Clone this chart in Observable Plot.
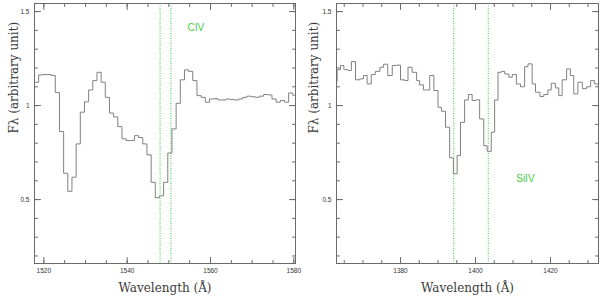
<!DOCTYPE html>
<html>
<head>
<meta charset="utf-8">
<script src="https://cdn.jsdelivr.net/npm/d3@7"></script>
<script src="https://cdn.jsdelivr.net/npm/@observablehq/plot@0.6"></script>
<style>
  html, body { margin: 0; padding: 0; background: #fff; }
  #wrap { display: flex; width: 600px; height: 298px; background: #fff; }
  #wrap svg { overflow: visible; }
</style>
</head>
<body>
<div id="wrap"></div>
<script>
// ---------- data ----------
// Left panel (C IV): bin left edges (Å) and flux
const civWave = [1517.75,1518.75,1519.75,1520.75,1521.75,1522.75,1523.75,1524.75,1525.75,1526.75,
  1527.75,1528.75,1529.75,1530.75,1531.75,1532.75,1533.75,1534.75,1535.75,1536.75,
  1537.75,1538.75,1539.75,1540.75,1541.75,1542.75,1543.75,1544.75,1545.75,1546.75,
  1547.75,1548.75,1549.75,1550.75,1551.75,1552.75,1553.75,1554.75,1555.75,1556.75,
  1557.75,1558.75,1559.75,1560.75,1561.75,1562.75,1563.75,1564.75,1565.75,1566.75,
  1567.75,1568.75,1569.75,1570.75,1571.75,1572.75,1573.75,1574.75,1575.75,1576.75,
  1577.75,1578.75,1579.75,1580.75];
const civFlux = [1.124,1.163,1.165,1.165,1.16,1.07,0.862,0.64,0.544,0.619,
  0.796,0.965,1.02,1.083,1.133,1.177,1.124,1.044,0.96,0.94,
  0.888,0.823,0.814,0.814,0.84,0.83,0.796,0.738,0.592,0.51,
  0.52,0.592,0.748,0.876,1.012,1.137,1.19,1.182,1.133,1.053,
  1.044,1.018,1.035,1.037,1.03,1.03,1.035,1.032,1.03,1.035,
  1.044,1.05,1.047,1.044,1.05,1.059,1.057,1.035,1.018,1.027,
  1.018,1.067,1.055,1.055];
// Right panel (Si IV)
const siivWave = [1362.5,1363.1,1364.0,1364.9,1366.0,1366.9,1368.0,1369.1,1370.1,1371.1,
  1372.2,1373.3,1374.5,1375.5,1376.6,1377.8,1378.9,1380.0,1381.1,1382.0,
  1383.1,1384.3,1385.1,1386.1,1386.9,1387.8,1388.9,1390.0,1390.9,1392.0,
  1393.1,1394.1,1395.1,1396.0,1397.1,1398.1,1399.1,1400.0,1401.1,1402.2,
  1403.1,1404.2,1405.1,1406.0,1406.9,1407.8,1408.9,1409.8,1410.9,1412.0,
  1413.1,1414.0,1415.1,1416.0,1417.2,1418.2,1419.3,1420.2,1421.3,1422.2,
  1423.1,1424.3,1425.3,1426.2,1427.3,1428.5,1429.6,1430.7,1431.7,1433.0];
const siivFlux = [1.129,1.191,1.213,1.191,1.187,1.234,1.137,1.142,1.16,1.115,
  1.165,1.182,1.204,1.22,1.16,1.213,1.215,1.137,1.133,1.204,
  1.177,1.133,1.11,1.083,1.083,1.16,1.08,0.991,0.97,0.885,
  0.722,0.637,0.734,0.911,1.03,1.059,1.027,1.03,0.929,0.787,
  0.757,0.858,1.03,1.177,1.182,1.168,1.151,1.165,1.115,1.10,
  1.207,1.222,1.115,1.071,1.048,1.059,1.083,1.119,1.094,1.053,
  1.137,1.195,1.16,1.062,1.124,1.09,1.10,1.133,1.115,1.115];

const civLines = [1547.9, 1550.5];
const siivLines = [1394.2, 1403.4];
const civLabel = [{text: "CIV", wave: 1556.5, flux: 1.415}];
const siivLabel = [{text: "SiIV", wave: 1413.3, flux: 0.612}];

const civMajor = [1520, 1540, 1560, 1580];
const civMinor = [1520,1525,1530,1535,1540,1545,1550,1555,1560,1565,1570,1575,1580];
const siivMajor = [1380, 1400, 1420];
const siivMinor = [1365,1370,1375,1380,1385,1390,1395,1400,1405,1410,1415,1420,1425,1430];
const yMajor = [0.5, 1, 1.5];
const yMinor = [0.2,0.3,0.4,0.5,0.6,0.7,0.8,0.9,1.0,1.1,1.2,1.3,1.4,1.5];

const xTitle = "Wavelength (Å)";
const yTitleMain = "F", yTitleSub = "λ", yTitleRest = " (arbitrary unit)";

// ---------- drawing ----------
const tickShape = {draw(ctx, l) { ctx.moveTo(0, 0); ctx.lineTo(0, -l); }};
const frameColor = "#6a6a6a";

function innerTicks(xMaj, xMin) {
  const o = {shape: tickShape, anchor: "start", stroke: frameColor, strokeWidth: 1};
  return [
    Plot.vector(xMin, {...o, x: d => d, frameAnchor: "bottom", rotate: 0, length: 3}),
    Plot.vector(xMaj, {...o, x: d => d, frameAnchor: "bottom", rotate: 0, length: 6}),
    Plot.vector(xMin, {...o, x: d => d, frameAnchor: "top", rotate: 180, length: 3}),
    Plot.vector(xMaj, {...o, x: d => d, frameAnchor: "top", rotate: 180, length: 6}),
    Plot.vector(yMinor, {...o, y: d => d, frameAnchor: "left", rotate: 90, length: 3}),
    Plot.vector(yMajor, {...o, y: d => d, frameAnchor: "left", rotate: 90, length: 6}),
    Plot.vector(yMinor, {...o, y: d => d, frameAnchor: "right", rotate: -90, length: 3}),
    Plot.vector(yMajor, {...o, y: d => d, frameAnchor: "right", rotate: -90, length: 6})
  ];
}

function panel({wave, flux, lines, label, xMaj, xMin, xDomain, marginLeft, marginRight}) {
  const pts = wave.map((w, i) => ({w, f: flux[i]}));
  const plot = Plot.plot({
    width: 300, height: 298,
    marginLeft, marginRight, marginTop: 3, marginBottom: 35,
    style: {fontFamily: "Liberation Sans, Arial, sans-serif", fontSize: "6.5px", background: "transparent", color: "#333", overflow: "visible"},
    x: {domain: xDomain},
    y: {domain: [0.16, 1.543]},
    marks: [
      Plot.ruleX(lines, {x: d => d, stroke: "#33cc33", strokeWidth: 1, strokeDasharray: "1,1.5"}),
      Plot.line(pts, {x: "w", y: "f", curve: "step-after", stroke: "#808080", strokeWidth: 1, clip: true}),
      Plot.frame({stroke: frameColor, strokeWidth: 1}),
      ...innerTicks(xMaj, xMin),
      Plot.axisX(xMaj, {anchor: "bottom", tickSize: 0, tickPadding: 5, tickFormat: d => String(d), label: null, fill: "#333"}),
      Plot.axisY(yMajor, {anchor: "left", tickSize: 0, tickPadding: 5, tickFormat: d => String(d), label: null, fill: "#333"}),
      Plot.text(label, {x: "wave", y: "flux", text: "text", fill: "#44cc44", fontSize: 10, fontFamily: "Liberation Sans, Arial, sans-serif"}),
      Plot.text([xTitle], {text: d => d, frameAnchor: "bottom", dy: 25, lineAnchor: "middle",
        fontFamily: "DejaVu Serif", fontSize: 12, fill: "#3a3a3a"}),
      Plot.text([yTitleMain + yTitleSub + yTitleRest], {text: d => d, frameAnchor: "left", dx: -20 - (marginLeft - 34), rotate: -90,
        lineAnchor: "middle", fontFamily: "DejaVu Serif", fontSize: 12, fill: "#3a3a3a", ariaLabel: "ytitle"})
    ]
  });
  // subscript lambda in the y title
  const t = plot.querySelector('g[aria-label="ytitle"] text');
  if (t) {
    t.textContent = "";
    const ns = "http://www.w3.org/2000/svg";
    const a = document.createElementNS(ns, "tspan"); a.textContent = yTitleMain;
    const b = document.createElementNS(ns, "tspan"); b.textContent = yTitleSub;
    b.setAttribute("font-size", "9"); b.setAttribute("dy", "3");
    const c = document.createElementNS(ns, "tspan"); c.textContent = yTitleRest;
    c.setAttribute("dy", "-3");
    t.append(a, b, c);
  }
  return plot;
}

const wrap = document.getElementById("wrap");
wrap.append(panel({wave: civWave, flux: civFlux, lines: civLines, label: civLabel,
  xMaj: civMajor, xMin: civMinor, xDomain: [1517.76, 1580.4], marginLeft: 34, marginRight: 5}));
wrap.append(panel({wave: siivWave, flux: siivFlux, lines: siivLines, label: siivLabel,
  xMaj: siivMajor, xMin: siivMinor, xDomain: [1362.93, 1432.8], marginLeft: 36, marginRight: 2}));
</script>
</body>
</html>
